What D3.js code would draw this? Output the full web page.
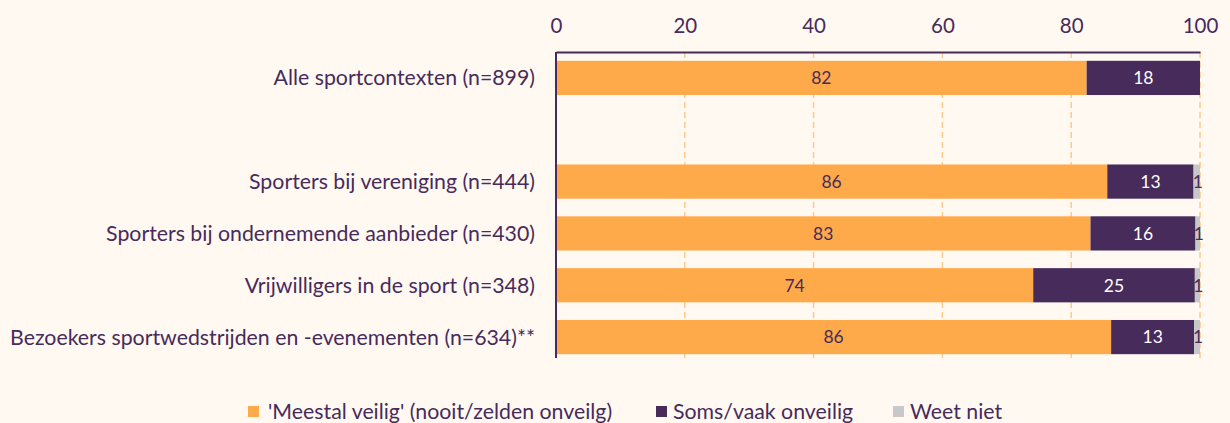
<!DOCTYPE html>
<html>
<head>
<meta charset="utf-8">
<script src="https://cdn.jsdelivr.net/npm/d3@7"></script>
<style>
  html, body { margin: 0; padding: 0; background: #fff9f2; }
  svg { display: block; font-family: Lato, 'Noto Sans', sans-serif; }
</style>
</head>
<body>
<div id="chart"></div>
<script>
// categories (empty string = spacer row)
const categories = [
  'Alle sportcontexten (n=899)',
  '',
  'Sporters bij vereniging (n=444)',
  'Sporters bij ondernemende aanbieder (n=430)',
  'Vrijwilligers in de sport (n=348)',
  'Bezoekers sportwedstrijden en -evenementen (n=634)**',
];
const seriesNames = ["'Meestal veilig' (nooit/zelden onveilg)", 'Soms/vaak onveilig', 'Weet niet'];
const veilig = [82.4, null, 85.6, 83.0, 74.1, 86.2];
const onveilig = [17.6, null, 13.4, 16.3, 25.1, 12.9];
const weetNiet = [0, null, 1.0, 0.7, 0.8, 0.9];
const xTicks = [0, 20, 40, 60, 80, 100];

const COLORS = ['#ffaa4a', '#472b5b', '#c8c8c8'];
const LABEL_COLORS = ['#472b5b', '#ffffff', '#472b5b'];
const TEXT = '#472b5b';

const width = 1230;
const height = 423;
const margin = { left: 556, right: 30, top: 52 };

const svg = d3.select('#chart').append('svg').attr('width', width).attr('height', height);
svg.append('rect').attr('width', width).attr('height', height).attr('fill', '#fff9f2');

const x = d3.scaleLinear().domain([0, 100]).range([margin.left, width - margin.right]);
const y = d3.scaleBand().domain(categories.map((c, i) => i)).range([52, 363]).paddingInner(0.34).paddingOuter(0.17);
const plotBottom = 358;

// gridlines
svg.append('g')
  .selectAll('line')
  .data(xTicks.slice(1))
  .join('line')
  .attr('x1', (d) => x(d))
  .attr('x2', (d) => x(d))
  .attr('y1', margin.top)
  .attr('y2', plotBottom)
  .attr('stroke', '#ffc98a')
  .attr('stroke-width', 1.5)
  .attr('stroke-dasharray', '6,4');

// stacked rows
const rows = categories.map((c, i) => ({ i, values: [veilig[i], onveilig[i], weetNiet[i]] })).filter((r) => r.values[0] != null);

const segs = [];
rows.forEach((r) => {
  let acc = 0;
  r.values.forEach((v, k) => {
    segs.push({ i: r.i, k, x0: acc, x1: acc + v, v });
    acc += v;
  });
});

svg.append('g')
  .selectAll('rect')
  .data(segs.filter((s) => s.v > 0))
  .join('rect')
  .attr('x', (d) => x(d.x0))
  .attr('width', (d) => x(d.x1) - x(d.x0))
  .attr('y', (d) => y(d.i))
  .attr('height', y.bandwidth())
  .attr('fill', (d) => COLORS[d.k]);

svg.append('g')
  .selectAll('text')
  .data(segs.filter((s) => s.v > 0))
  .join('text')
  .attr('x', (d) => (x(d.x0) + x(d.x1)) / 2 + (d.k === 2 ? 1 : 0))
  .attr('y', (d) => y(d.i) + y.bandwidth() / 2)
  .attr('dy', '0.36em')
  .attr('text-anchor', 'middle')
  .attr('font-size', 17.5)
  .attr('fill', (d) => LABEL_COLORS[d.k])
  .text((d) => Math.round(d.v));

// top axis
const xAxis = svg.append('g')
  .attr('transform', `translate(0,${margin.top})`)
  .call(d3.axisTop(x).tickValues(xTicks).tickSize(0).tickPadding(19));
xAxis.select('.domain').attr('stroke', TEXT).attr('stroke-width', 2);
xAxis.selectAll('text').attr('font-size', 20.5).attr('fill', TEXT).attr('font-family', 'Lato, sans-serif');

// left axis line
svg.append('line')
  .attr('x1', x(0)).attr('x2', x(0))
  .attr('y1', margin.top).attr('y2', plotBottom)
  .attr('stroke', TEXT).attr('stroke-width', 2);

// category labels
svg.append('g')
  .selectAll('text')
  .data(categories.map((c, i) => ({ c, i })).filter((d) => d.c))
  .join('text')
  .attr('x', 535)
  .attr('y', (d) => y(d.i) + y.bandwidth() / 2)
  .attr('dy', '0.35em')
  .attr('text-anchor', 'end')
  .attr('font-size', 21.3)
  .attr('fill', TEXT)
  .text((d) => d.c);

// legend
const legendX = [248, 656, 893];
const legend = svg.append('g')
  .selectAll('g')
  .data(seriesNames)
  .join('g')
  .attr('transform', (d, i) => `translate(${legendX[i]},412)`);
legend.append('rect').attr('x', 0).attr('y', -6).attr('width', 11).attr('height', 11).attr('fill', (d, i) => COLORS[i]);
legend.append('text')
  .attr('x', (d, i) => (i === 0 ? 20 : 17))
  .attr('y', 0)
  .attr('dy', '0.35em')
  .attr('font-size', 21.3)
  .attr('fill', TEXT)
  .text((d) => d);
</script>
</body>
</html>
